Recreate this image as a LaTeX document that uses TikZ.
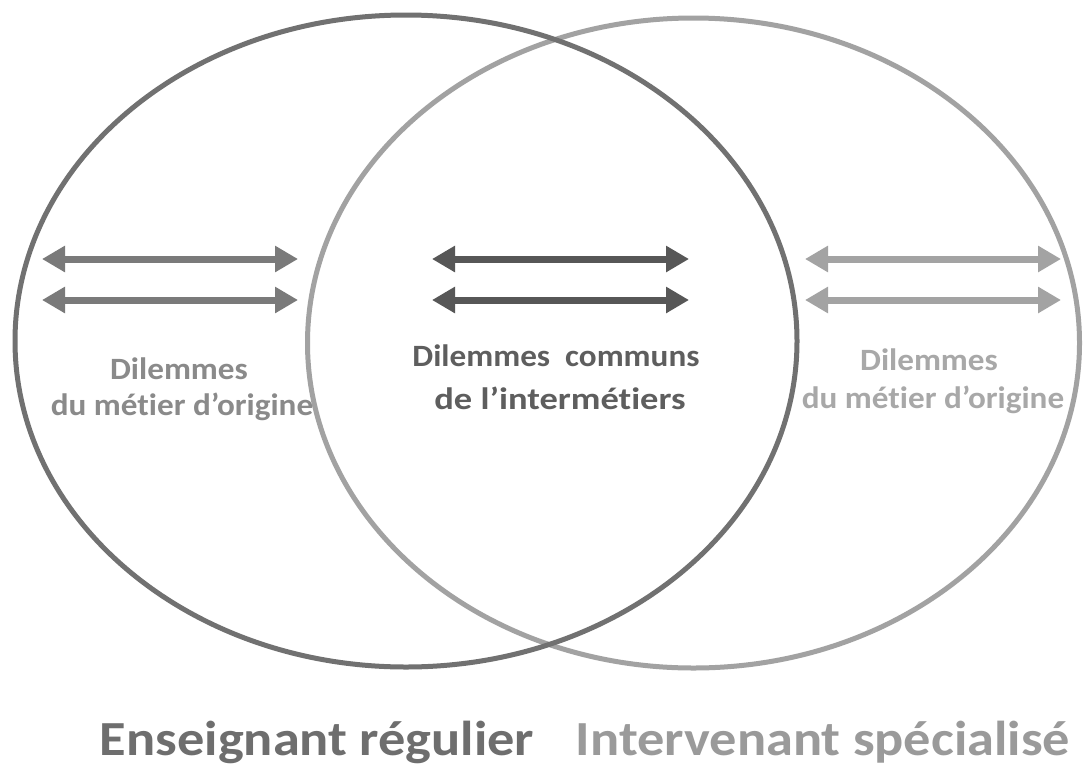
\documentclass[tikz,border=0pt]{standalone}
\usepackage{fontspec}
\setmainfont{Carlito}[Ligatures={NoCommon}]
\usetikzlibrary{arrows.meta}
\definecolor{cL}{HTML}{717171}
\definecolor{cR}{HTML}{A2A2A2}
\definecolor{aL}{HTML}{7A7A7A}
\definecolor{aM}{HTML}{575757}
\definecolor{aR}{HTML}{A3A3A3}
\definecolor{tL}{HTML}{8A8A8A}
\definecolor{tM}{HTML}{5E5E5E}
\definecolor{tR}{HTML}{A8A8A8}
\definecolor{bL}{HTML}{6E6E6E}
\definecolor{bR}{HTML}{9A9A9A}
\tikzset{
  dbl/.style={line width=7pt,{Triangle[length=23pt,width=25pt]}-{Triangle[length=23pt,width=25pt]}},
  lab/.style={font=\bfseries\fontsize{31}{36}\selectfont,inner sep=0pt,anchor=base,xscale=1.07},
  big/.style={font=\bfseries\fontsize{49}{52}\selectfont,inner sep=0pt,anchor=base,xscale=1.11},
}
\begin{document}
\begin{tikzpicture}[x=1pt,y=-1pt]
\useasboundingbox (0,0) rectangle (1083,769);
\fill[white] (0,0) rectangle (1083,769);
\draw[cR,line width=5pt] (693.5,343) ellipse [x radius=386,y radius=325];
\draw[cL,line width=5pt] (406,341) ellipse [x radius=391,y radius=326];
% arrows
\coordinate (l1a) at (42,259); \coordinate (l1b) at (298,259);
\coordinate (l2a) at (42,300); \coordinate (l2b) at (298,300);
\coordinate (m1a) at (432,259); \coordinate (m1b) at (689,259);
\coordinate (m2a) at (432,300); \coordinate (m2b) at (689,300);
\coordinate (r1a) at (805,259); \coordinate (r1b) at (1061,259);
\coordinate (r2a) at (805,300); \coordinate (r2b) at (1061,300);
\draw[dbl,aL] (l1a) -- (l1b);
\draw[dbl,aL] (l2a) -- (l2b);
\draw[dbl,aM] (m1a) -- (m1b);
\draw[dbl,aM] (m2a) -- (m2b);
\draw[dbl,aR] (r1a) -- (r1b);
\draw[dbl,aR] (r2a) -- (r2b);
% texts
\node[lab,tL] (tl1) at (179,379) {Dilemmes};
\node[lab,tL] (tl2) at (182,415) {du métier d’origine};
\node[lab,tM] (tm1) at (556,366) {Dilemmes\ \ communs};
\node[lab,tM,xscale=1.1] (tm2) at (560,409) {de l’intermétiers};
\node[lab,tR] (tr1) at (929,370) {Dilemmes};
\node[lab,tR] (tr2) at (933,408) {du métier d’origine};
\node[big,bL] (el) at (317,755) {Enseignant régulier};
\node[big,bR] (er) at (823,755) {Intervenant spécialisé};
\end{tikzpicture}
\end{document}
